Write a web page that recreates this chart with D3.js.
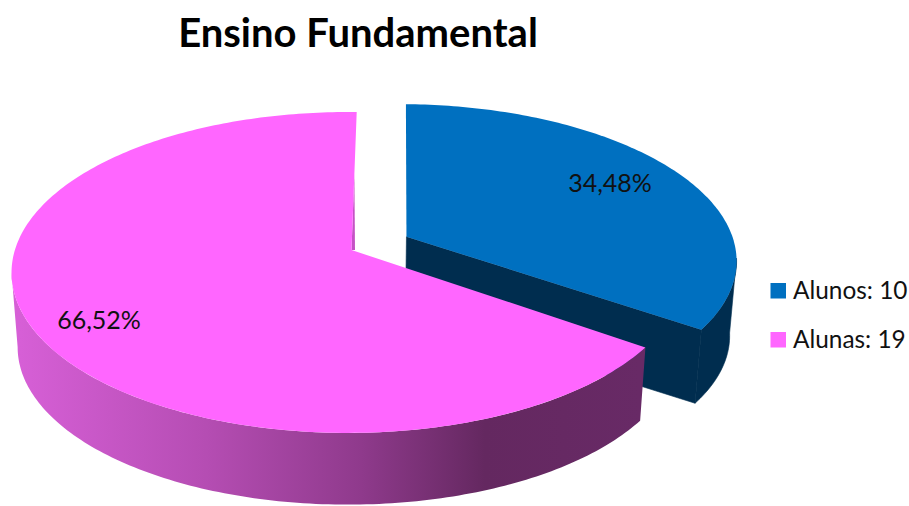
<!DOCTYPE html>
<html>
<head>
<meta charset="utf-8">
<script src="https://cdn.jsdelivr.net/npm/d3@7"></script>
<style>
  html, body { margin: 0; padding: 0; background: #fff; }
  text { font-family: Lato, "Open Sans", sans-serif; fill: #111; }
</style>
</head>
<body>
<svg id="chart"></svg>
<script>
const title = "Ensino Fundamental";
const categories = ["Alunos", "Alunas"];
const counts = [10, 19];
const pctLabels = ["34,48%", "66,52%"];
const topColors = ["#0070C0", "#FF66FF"];
const wallStops = [
  [0.0, "#d65fd6"],
  [0.3, "#b54db3"],
  [0.55, "#8f3a8c"],
  [0.75, "#642860"],
  [1.0, "#682a66"],
];

const width = 909;
const height = 506;

// perspective of the tilted disc
const x0 = 351.5;
const y0 = 250;
const a = 336.6;
const b = 157.3;
const k = 0.14;
const depth = 75;
const shrink = 0.982;
const explode = 0.186;
const rotation = (0.6 * Math.PI) / 180;
const backTilt = (1 * Math.PI) / 180;

function project(u, v, lower) {
  let s = 1 / (1 + k * v);
  let x = x0 + a * u * s;
  let y = y0 - b * v * s;
  if (lower) {
    x = x0 + shrink * (x - x0);
    y = y0 + shrink * (y - y0) + depth;
  }
  return [x, y];
}

function point(d, r, angle, lower) {
  return project(
    d.ox + r * d.rx * Math.sin(angle),
    d.oy + r * d.ry * Math.cos(angle),
    lower
  );
}

function arcPoints(d, from, to, lower) {
  let n = Math.ceil(Math.abs(to - from) * 60);
  return d3.range(n + 1).map((i) => {
    return point(d, 1, from + ((to - from) * i) / n, lower);
  });
}

let pie = d3
  .pie()
  .sort(null)
  .startAngle(rotation)
  .endAngle(rotation + 2 * Math.PI);

let slices = pie(counts).map((d, i) => {
  let mid = (d.startAngle + d.endAngle) / 2;
  d.ox = i == 0 ? explode * Math.sin(mid) : -0.01;
  d.oy = i == 0 ? explode * Math.cos(mid) : 0;
  d.rx = i == 0 ? 0.98 : 0.99;
  d.ry = i == 0 ? 0.98 : 1;
  return d;
});
let blue = slices[0];
let pink = slices[1];

let line = d3.line();

let svg = d3
  .select("#chart")
  .attr("width", width)
  .attr("height", height)
  .style("display", "block");

let grad = svg
  .append("defs")
  .append("linearGradient")
  .attr("id", "wallGrad")
  .attr("gradientUnits", "userSpaceOnUse")
  .attr("x1", 20)
  .attr("x2", 640)
  .attr("y1", 0)
  .attr("y2", 0);

grad
  .selectAll("stop")
  .data(wallStops)
  .join("stop")
  .attr("offset", (d) => d[0])
  .attr("stop-color", (d) => d[1]);

// blue slice: dark sides first, then top
let blueEndTop = point(blue, 1, blue.endAngle, false);
let blueEndBottom = point(blue, 1, blue.endAngle, true);
let blueApexTop = point(blue, 0, blue.endAngle, false);
let blueApexBottom = point(blue, 0, blue.endAngle, true);

svg
  .append("path")
  .attr("d", line([blueApexTop, blueEndTop, blueEndBottom, blueApexBottom]) + "Z")
  .style("fill", "#002d4f")
  .style("stroke", "#002d4f")
  .style("stroke-width", 0.6);

let rightSide = Math.PI / 2 + 0.14;
svg
  .append("path")
  .attr(
    "d",
    line(
      arcPoints(blue, rightSide, blue.endAngle, false).concat(
        arcPoints(blue, blue.endAngle, rightSide, true)
      )
    ) + "Z"
  )
  .style("fill", "#002d4f")
  .style("stroke", "#002d4f")
  .style("stroke-width", 0.6);

svg
  .append("path")
  .attr(
    "d",
    line(
      [blueApexTop].concat(
        arcPoints(blue, blue.startAngle + backTilt * 0.6, blue.endAngle, false)
      )
    ) + "Z"
  )
  .style("fill", topColors[0]);

// pink slice
let pinkStart = pink.startAngle;
let pinkEnd = pink.endAngle + backTilt;
let pinkApex = project(0, 0, false);
let leftSide = 1.5 * Math.PI - 0.14;

svg
  .append("path")
  .attr(
    "d",
    line(
      arcPoints(pink, pinkStart, leftSide, false).concat(
        arcPoints(pink, leftSide, pinkStart, true)
      )
    ) + "Z"
  )
  .style("fill", "url(#wallGrad)");

// thin visible part of the back cut
let backEdge = point(pink, 1, pinkEnd, false);
svg
  .append("path")
  .attr(
    "d",
    line([
      pinkApex,
      [d3.interpolate(pinkApex[0], backEdge[0])(0.55), d3.interpolate(pinkApex[1], backEdge[1])(0.55)],
      [pinkApex[0] + 3.5, pinkApex[1]],
    ]) + "Z"
  )
  .style("fill", "#c552c5");

svg
  .append("path")
  .attr(
    "d",
    line([pinkApex].concat(arcPoints(pink, pinkStart, pinkEnd, false))) + "Z"
  )
  .style("fill", topColors[1]);

// texts
svg
  .append("text")
  .attr("x", 358)
  .attr("y", 47)
  .attr("text-anchor", "middle")
  .style("font-size", "40px")
  .style("font-weight", "700")
  .style("fill", "#000")
  .text(title);

let labelPos = [
  [610, 192],
  [99, 329],
];
svg
  .selectAll(".pct")
  .data(pctLabels)
  .join("text")
  .attr("class", "pct")
  .attr("x", (d, i) => labelPos[i][0])
  .attr("y", (d, i) => labelPos[i][1])
  .attr("text-anchor", "middle")
  .style("font-size", "25px")
  .text((d) => d);

let legendY = d3.scalePoint().domain(categories).range([291, 340]);

svg
  .selectAll(".swatch")
  .data(categories)
  .join("rect")
  .attr("class", "swatch")
  .attr("x", 770.5)
  .attr("y", (d) => legendY(d) - 8)
  .attr("width", 15.5)
  .attr("height", 15.5)
  .style("fill", (d, i) => topColors[i]);

svg
  .selectAll(".legend")
  .data(categories)
  .join("text")
  .attr("class", "legend")
  .attr("x", 793)
  .attr("y", (d) => legendY(d) + 8)
  .style("font-size", "24.4px")
  .text((d, i) => `${d}: ${counts[i]}`);
</script>
</body>
</html>
